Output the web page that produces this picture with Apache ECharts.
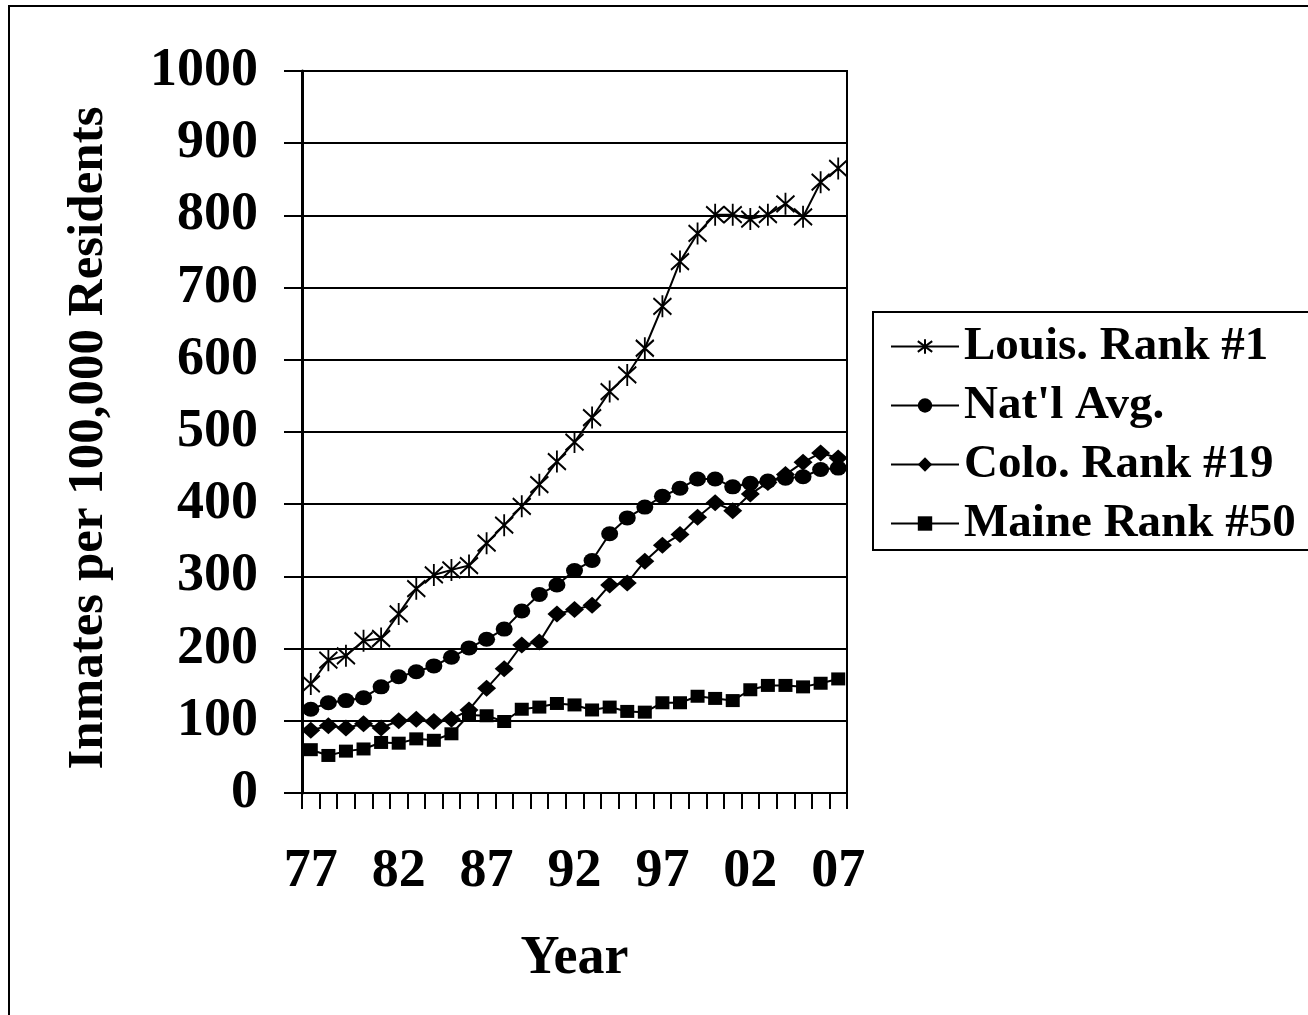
<!DOCTYPE html>
<html style="height: 100%">
  <head>
    <meta charset="utf-8" />
  </head>
  <body style="height: 100%; margin: 0; background: #fff">
    <div id="prison-chart" style="width: 1308px; height: 1015px"></div>
    <script type="text/javascript" src="https://cdn.jsdelivr.net/npm/echarts@6/dist/echarts.min.js"></script>
    <script type="text/javascript">
      // years 1977 - 2007, two digit labels
      let years = [
        "77", "78", "79", "80", "81", "82", "83", "84", "85", "86",
        "87", "88", "89", "90", "91", "92", "93", "94", "95", "96",
        "97", "98", "99", "00", "01", "02", "03", "04", "05", "06", "07",
      ];
      // inmates per 100,000 residents
      let louisData = [
        151, 184, 190, 211, 214, 248, 283, 302, 309, 315,
        346, 371, 397, 427, 459, 486, 520, 556, 579, 616,
        674, 736, 775, 801, 801, 795, 801, 816, 798, 846, 865,
      ];
      let natAvgData = [
        116, 125, 128, 132, 147, 161, 168, 176, 188, 201,
        213, 227, 252, 275, 288, 308, 322, 359, 381, 396,
        411, 422, 435, 435, 424, 429, 432, 436, 438, 448, 450,
      ];
      let coloData = [
        87, 93, 90, 96, 90, 100, 102, 99, 102, 115,
        145, 172, 205, 209, 248, 254, 260, 288, 291, 321,
        343, 358, 382, 402, 391, 414, 430, 441, 458, 471, 464,
      ];
      let maineData = [
        60, 52, 58, 61, 70, 69, 75, 73, 82, 108,
        107, 99, 116, 119, 124, 122, 115, 119, 113, 112,
        125, 125, 134, 131, 128, 143, 149, 149, 147, 152, 158,
      ];
      let seriesNames = ["Louis. Rank #1", "Nat'l Avg.", "Colo. Rank #19", "Maine Rank #50"];

      // asterisk marker: an X with a vertical bar
      const starPath = "path://M0 2L12 14M12 2L0 14M6 0L6 16";
      const font = "Liberation Serif";

      var dom = document.getElementById("prison-chart");
      var myChart = echarts.init(dom, null, { renderer: "canvas" });

      function lineSeries(name, data, symbol, size, extra) {
        return Object.assign(
          {
            name: name,
            type: "line",
            data: data,
            symbol: symbol,
            symbolSize: size,
            showAllSymbol: true,
            lineStyle: { color: "#000", width: 2 },
            itemStyle: { color: "#000", borderColor: "#000", borderWidth: 0 },
            emphasis: { disabled: true },
          },
          extra || {}
        );
      }

      var option = {
        animation: false,
        backgroundColor: "#fff",
        graphic: [
          {
            // outer frame of the picture (right and bottom run off the edge)
            type: "polyline",
            shape: { points: [[1320, 6], [9, 6], [9, 1030]] },
            style: { fill: null, stroke: "#000", lineWidth: 2 },
            silent: true,
          },
          {
            // legend frame, its right side is cut off by the picture edge
            type: "polyline",
            shape: { points: [[1320, 312], [873, 312], [873, 550], [1320, 550]] },
            style: { fill: null, stroke: "#000", lineWidth: 2 },
            silent: true,
          },
        ],
        grid: {
          left: 302,
          right: 461,
          top: 71,
          bottom: 222,
          show: true,
          borderColor: "#000",
          borderWidth: 2,
        },
        legend: {
          orient: "vertical",
          left: 873,
          top: 312,
          data: seriesNames,
          itemWidth: 68,
          itemHeight: 18,
          itemGap: 12,
          padding: [11, 0, 3, 17],
          borderWidth: 0,
          backgroundColor: "transparent",
          textStyle: {
            color: "#000",
            fontFamily: font,
            fontWeight: "bold",
            fontSize: 47,
            lineHeight: 47,
          },
        },
        xAxis: {
          type: "category",
          data: years,
          boundaryGap: true,
          name: "Year",
          nameLocation: "middle",
          nameGap: 139,
          nameTextStyle: {
            color: "#000",
            fontFamily: font,
            fontWeight: "bold",
            fontSize: 54,
          },
          axisLine: { lineStyle: { color: "#000", width: 2 } },
          axisTick: {
            show: true,
            interval: 0,
            alignWithLabel: false,
            length: 16,
            lineStyle: { color: "#000", width: 2 },
          },
          axisLabel: {
            interval: 4,
            margin: 52,
            color: "#000",
            fontFamily: font,
            fontWeight: "bold",
            fontSize: 54,
          },
          splitLine: { show: false },
        },
        yAxis: {
          type: "value",
          min: 0,
          max: 1000,
          interval: 100,
          name: "Inmates per 100,000 Residents",
          nameLocation: "middle",
          nameGap: 188,
          nameTextStyle: {
            color: "#000",
            fontFamily: font,
            fontWeight: "bold",
            fontSize: 51,
            padding: [0, 12, 0, 0],
          },
          axisLine: { show: true, lineStyle: { color: "#000", width: 3 } },
          axisTick: { show: true, length: 18, lineStyle: { color: "#000", width: 2 } },
          axisLabel: {
            margin: 44,
            color: "#000",
            fontFamily: font,
            fontWeight: "bold",
            fontSize: 54,
            formatter: function (v) {
              return String(v);
            },
          },
          splitLine: { show: true, lineStyle: { color: "#000", width: 2 } },
        },
        series: [
          lineSeries(seriesNames[0], louisData, starPath, [18, 22], {
            itemStyle: { color: "#000", borderColor: "#000", borderWidth: 2 },
          }),
          lineSeries(seriesNames[1], natAvgData, "circle", [17, 15]),
          lineSeries(seriesNames[2], coloData, "diamond", [19, 17]),
          lineSeries(seriesNames[3], maineData, "rect", [14, 13]),
        ],
      };

      if (option && typeof option === "object") {
        myChart.setOption(option);
      }
    </script>
  </body>
</html>
